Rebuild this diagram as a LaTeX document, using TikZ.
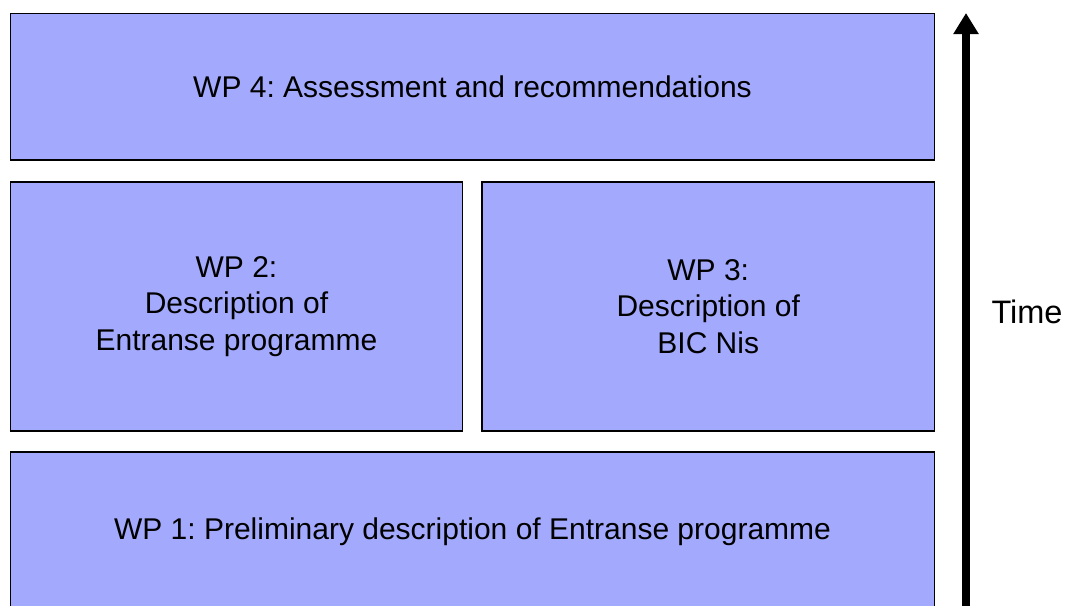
\documentclass[tikz,border=0pt]{standalone}
\usepackage{fontspec}
\setmainfont{Liberation Sans}
\usetikzlibrary{arrows.meta}
\frenchspacing
\definecolor{wpfill}{RGB}{163,170,253}
\tikzset{
  wpbox/.style={draw=black, line width=1.5pt, fill=wpfill, inner sep=0pt,
    align=center, font=\fontsize{30}{36.5}\selectfont},
  timearrow/.style={line width=8pt, -{Triangle[width=24pt,length=21pt]}},
}
\begin{document}
\begin{tikzpicture}[x=1pt,y=-1pt]
  \useasboundingbox (0,0) rectangle (1067,605);
  \begin{scope}
    \clip (0,0) rectangle (1067,605);
    % work packages
    \node[wpbox, minimum width=924pt, minimum height=146.5pt] (wp4) at (472.5,86.75)
      {WP 4: Assessment and recommendations};
    \node[wpbox, minimum width=452pt, minimum height=249pt] (wp2) at (236.5,306.5)
      {WP 2:\\Description of\\Entranse programme};
    \node[wpbox, minimum width=452.5pt, minimum height=249pt] (wp3) at (708.25,306.5)
      {WP 3:\\Description of\\BIC Nis};
    \node[wpbox, minimum width=924pt, minimum height=160pt] (wp1) at (472.5,532)
      {WP 1: Preliminary description of Entranse programme};
    % time axis
    \coordinate (tstart) at (966,608);
    \coordinate (tend) at (966,13);
    \draw[timearrow] (tstart) -- (tend);
  \end{scope}
  \node[font=\fontsize{32.5}{36}\selectfont, inner sep=0pt] (time) at (1027,312) {Time};
\end{tikzpicture}
\end{document}
